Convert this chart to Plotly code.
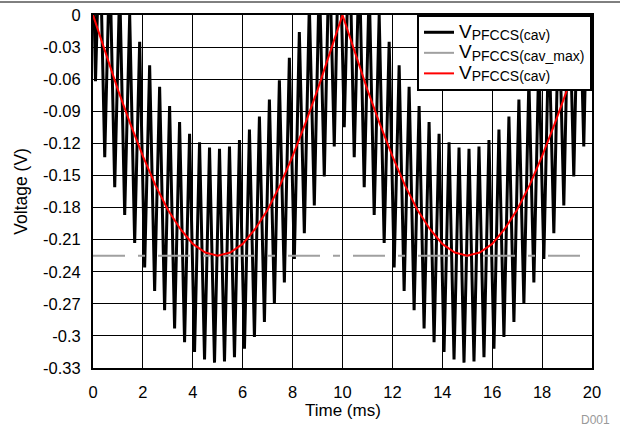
import plotly.graph_objects as go

# ---- data ----
# black trace: alternating tips (upper peaks, lower troughs) of the oscillating signal
tip_time_ms = [
    0.00, 0.10, 0.27, 0.47, 0.67, 0.87, 1.07, 1.27, 1.47, 1.67, 1.87, 2.07, 2.27, 2.47,
    2.67, 2.87, 3.07, 3.27, 3.47, 3.67, 3.87, 4.07, 4.27, 4.47, 4.67, 4.87, 5.07, 5.27,
    5.47, 5.67, 5.87, 6.07, 6.27, 6.47, 6.67, 6.87, 7.07, 7.27, 7.47, 7.67, 7.87, 8.07,
    8.27, 8.47, 8.67, 8.87, 9.07, 9.27, 9.47, 9.67, 9.87, 10.07, 10.27, 10.47, 10.67,
    10.87, 11.07, 11.27, 11.47, 11.67, 11.87, 12.07, 12.27, 12.47, 12.67, 12.87, 13.07,
    13.27, 13.47, 13.67, 13.87, 14.07, 14.27, 14.47, 14.67, 14.87, 15.07, 15.27, 15.47,
    15.67, 15.87, 16.07, 16.27, 16.47, 16.67, 16.87, 17.07, 17.27, 17.47, 17.67, 17.87,
    18.07, 18.27, 18.47, 18.67, 18.87, 19.07, 19.27, 19.47, 19.67, 19.87, 20.00,
]
tip_voltage = [
    0.060, -0.062, 0.081, -0.133, 0.053, -0.161, 0.026, -0.187, 0.000, -0.213, -0.025,
    -0.236, -0.047, -0.258, -0.067, -0.276, -0.085, -0.293, -0.100, -0.306, -0.111,
    -0.315, -0.119, -0.322, -0.124, -0.325, -0.125, -0.324, -0.123, -0.320, -0.117,
    -0.312, -0.107, -0.301, -0.095, -0.287, -0.079, -0.270, -0.061, -0.250, -0.040,
    -0.228, -0.016, -0.204, 0.009, -0.178, 0.035, -0.151, 0.063, -0.123, 0.091,
    -0.105, 0.081, -0.133, 0.053, -0.161, 0.026, -0.187, 0.000, -0.213, -0.025,
    -0.236, -0.047, -0.258, -0.067, -0.276, -0.085, -0.293, -0.100, -0.306, -0.111,
    -0.315, -0.119, -0.322, -0.124, -0.325, -0.125, -0.324, -0.123, -0.320, -0.117,
    -0.312, -0.107, -0.301, -0.095, -0.287, -0.079, -0.270, -0.061, -0.250, -0.040,
    -0.228, -0.016, -0.204, 0.009, -0.178, 0.035, -0.151, 0.063, -0.123, 0.091, -0.050,
]

# red average curve, sampled every 0.5 ms
avg_time_ms = [i * 0.5 for i in range(41)]
avg_voltage = [
    0.000, -0.035, -0.070, -0.102, -0.132, -0.159, -0.182, -0.200, -0.214, -0.222,
    -0.225, -0.222, -0.214, -0.200, -0.182, -0.159, -0.132, -0.102, -0.070, -0.035,
    0.000, -0.035, -0.070, -0.102, -0.132, -0.159, -0.182, -0.200, -0.214, -0.222,
    -0.225, -0.222, -0.214, -0.200, -0.182, -0.159, -0.132, -0.102, -0.070, -0.035,
    0.000,
]

# gray max-average level
max_time_ms = [0, 20]
max_voltage = [-0.225, -0.225]

y_ticks = [0, -0.03, -0.06, -0.09, -0.12, -0.15, -0.18, -0.21, -0.24, -0.27, -0.3, -0.33]
y_tick_text = ["0", "-0.03", "-0.06", "-0.09", "-0.12", "-0.15", "-0.18", "-0.21",
               "-0.24", "-0.27", "-0.3", "-0.33"]
x_ticks = [0, 2, 4, 6, 8, 10, 12, 14, 16, 18, 20]


def legend_name(sub):
    return ('<span style="font-size:19px">V</span>'
            '<sub><span style="font-size:14px">' + sub + '</span></sub>')


names = [legend_name("PFCCS(cav)"), legend_name("PFCCS(cav_max)"), legend_name("PFCCS(cav)")]

FONT = "Liberation Sans, Arial, sans-serif"

fig = go.Figure()
fig.add_trace(go.Scatter(x=tip_time_ms, y=tip_voltage, mode="lines", name=names[0],
                         line=dict(color="black", width=3)))
fig.add_trace(go.Scatter(x=max_time_ms, y=max_voltage, mode="lines", name=names[1],
                         line=dict(color="#a0a0a0", width=2, dash="32px,13px,7px,13px")))
fig.add_trace(go.Scatter(x=avg_time_ms, y=avg_voltage, mode="lines", name=names[2],
                         line=dict(color="#ff0000", width=2)))

fig.update_layout(
    width=620, height=428,
    margin=dict(l=93, r=28, t=15, b=60, autoexpand=False),
    paper_bgcolor="white", plot_bgcolor="white",
    font=dict(family=FONT, color="black", size=16),
    showlegend=True,
    legend=dict(x=1, xanchor="right", y=1, yanchor="top",
                bordercolor="black", borderwidth=2, bgcolor="white",
                font=dict(size=13.5, family=FONT), tracegroupgap=0, itemwidth=30),
    xaxis=dict(range=[0, 20], tickvals=x_ticks, showgrid=True, gridcolor="black",
               gridwidth=1, showline=True, linecolor="black", linewidth=2, mirror=True,
               zeroline=False, ticks="outside", ticklen=8, tickcolor="rgba(0,0,0,0)",
               automargin=False, tickfont=dict(size=16.5)),
    yaxis=dict(range=[-0.33, 0], tickvals=y_ticks, ticktext=y_tick_text, showgrid=True,
               gridcolor="black", gridwidth=1, showline=True, linecolor="black",
               linewidth=2, mirror=True, zeroline=False, ticks="outside", ticklen=7,
               tickcolor="rgba(0,0,0,0)", automargin=False, tickfont=dict(size=16.5)),
    shapes=[dict(type="line", xref="paper", yref="paper", x0=-0.2, x1=1.1,
                 y0=1.0368, y1=1.0368, line=dict(color="black", width=1))],
    annotations=[
        dict(text="Time (ms)", xref="paper", yref="paper", x=0.5, y=-0.119,
             xanchor="center", yanchor="middle", showarrow=False,
             font=dict(size=17, family=FONT)),
        dict(text="Voltage (V)", xref="paper", yref="paper", x=-0.146, y=0.5,
             textangle=-90, xanchor="center", yanchor="middle", showarrow=False,
             font=dict(size=17.5, family=FONT)),
        dict(text="D001", xref="paper", yref="paper", x=1.04, y=-0.147,
             xanchor="right", yanchor="middle", showarrow=False,
             font=dict(size=12, color="#999999", family=FONT)),
    ],
)

fig.write_html("out.html", config={"displayModeBar": False},
               post_script="document.body.style.margin='0px';document.body.style.padding='0px';")
